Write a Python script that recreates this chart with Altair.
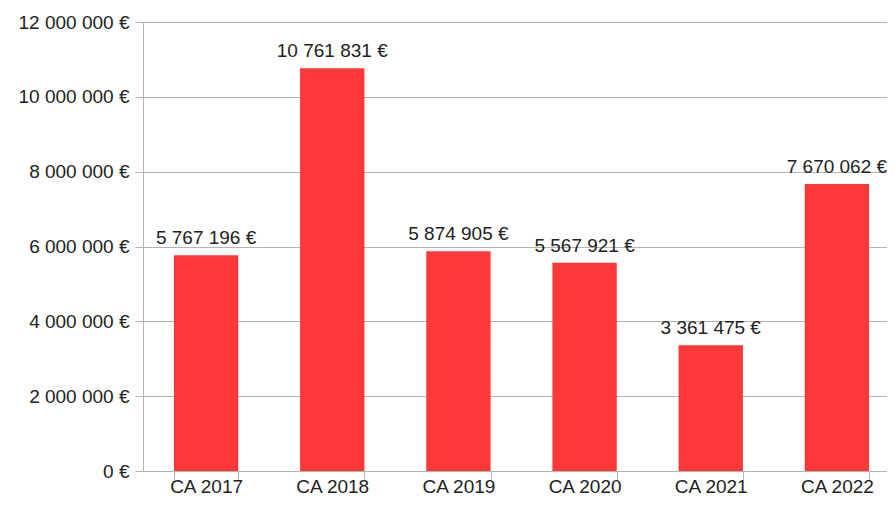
import altair as alt
import pandas as pd

categories = ["CA 2017", "CA 2018", "CA 2019", "CA 2020", "CA 2021", "CA 2022"]
values = [5767196, 10761831, 5874905, 5567921, 3361475, 7670062]

df = pd.DataFrame({"cat": categories, "val": values})

FONT = "Liberation Sans"
FS = 19

base = alt.Chart(df).encode(
    x=alt.X("cat:N", sort=categories, title=None,
            scale=alt.Scale(paddingInner=0.49, paddingOuter=0.245, range=[0, 757]),
            axis=alt.Axis(labelAngle=0, tickBand="extent", tickSize=8,
                          labelPadding=-2, domainColor="#b3b3b3", tickColor="#b3b3b3",
                          labelFont=FONT, labelFontSize=FS, labelColor="#222222",
                          grid=False)),
    y=alt.Y("val:Q", title=None,
            scale=alt.Scale(domain=[0, 12000000], nice=False),
            axis=alt.Axis(values=[0, 2000000, 4000000, 6000000, 8000000, 10000000, 12000000],
                          format="$,.0f", tickSize=8, labelPadding=6,
                          domainColor="#b3b3b3", tickColor="#b3b3b3",
                          gridColor="#b3b3b3", grid=True,
                          labelFont=FONT, labelFontSize=FS, labelColor="#222222")),
)

bars = base.mark_bar(color="#ff3838")
labels = base.mark_text(baseline="alphabetic", dy=-11, font=FONT, fontSize=FS,
                        color="#222222").encode(text=alt.Text("val:Q", format="$,.0f"))

chart = (bars + labels).properties(
    width=744, height=449,
    padding={"left": 135, "top": 14, "right": 0, "bottom": 28},
    autosize=alt.AutoSizeParams(type="none"),
).configure(
    locale={"number": {"decimal": ",", "thousands": "\u00a0", "grouping": [3],
                       "currency": ["", "\u00a0€"]}}
).configure_view(stroke=None)

chart.save("out.html", embed_options={"renderer": "svg", "actions": False})
